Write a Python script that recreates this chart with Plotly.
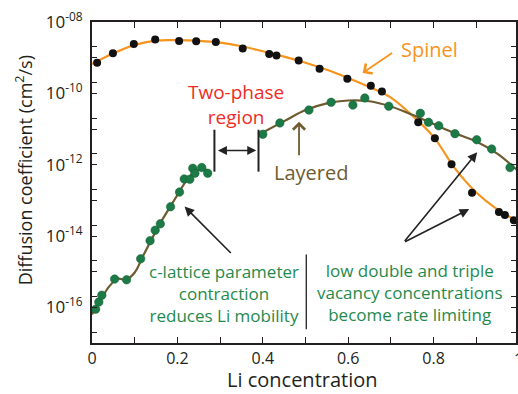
import plotly.graph_objects as go

# ---------------- data ----------------
spinel_x = [0.012, 0.049, 0.098, 0.148, 0.204, 0.244, 0.29, 0.353, 0.415, 0.432, 0.484,
            0.533, 0.598, 0.653, 0.679, 0.764, 0.803, 0.842, 0.89, 0.953, 0.967, 0.988]
spinel_D = [7.2e-10, 1.33e-9, 2.40e-9, 3.24e-9, 2.95e-9, 2.88e-9, 2.75e-9, 1.82e-9, 1.27e-9,
            1.15e-9, 8.3e-10, 4.9e-10, 2.57e-10, 1.62e-10, 1.12e-10, 1.55e-11, 5.5e-12,
            1.02e-12, 1.62e-13, 4.7e-14, 3.9e-14, 2.75e-14]

spinel_fit_x = [0, 0.05, 0.1, 0.15, 0.2, 0.25, 0.3, 0.35, 0.4, 0.45, 0.5, 0.55, 0.6, 0.65,
                0.7, 0.75, 0.8, 0.85, 0.9, 0.95, 1.0]
spinel_fit_D = [6.6e-10, 1.32e-9, 2.29e-9, 3.02e-9, 3.09e-9, 2.95e-9, 2.63e-9, 2.09e-9,
                1.51e-9, 1.07e-9, 7.2e-10, 4.57e-10, 2.69e-10, 1.51e-10, 7.6e-11, 2.4e-11,
                6.0e-12, 7.9e-13, 1.66e-13, 5.5e-14, 2.5e-14]

layered_x = [0.0085, 0.016, 0.023, 0.053, 0.081, 0.114, 0.136, 0.148, 0.16, 0.184, 0.205,
             0.216, 0.229, 0.236, 0.241, 0.257, 0.271, 0.4, 0.44, 0.508, 0.56, 0.611, 0.639,
             0.695, 0.769, 0.788, 0.812, 0.85, 0.901, 0.936, 0.979]
layered_D = [8.9e-17, 1.41e-16, 2.19e-16, 6.2e-16, 5.9e-16, 2.29e-15, 7.4e-15, 1.45e-14,
             2.19e-14, 6.6e-14, 1.70e-13, 3.98e-13, 3.89e-13, 7.9e-13, 5.75e-13, 8.3e-13,
             5.75e-13, 7.1e-12, 1.48e-11, 3.39e-11, 5.6e-11, 4.68e-11, 7.4e-11, 4.37e-11,
             2.75e-11, 1.55e-11, 1.23e-11, 7.4e-12, 5.0e-12, 2.75e-12, 8.3e-13]

layered_fit1_x = [0, 0.02, 0.04, 0.06, 0.08, 0.1, 0.12, 0.14, 0.16, 0.18, 0.2, 0.22, 0.24,
                  0.26, 0.275]
layered_fit1_D = [6.3e-17, 1.58e-16, 3.8e-16, 6.3e-16, 6.0e-16, 9.5e-16, 2.82e-15, 8.3e-15,
                  2.29e-14, 5.75e-14, 1.41e-13, 3.39e-13, 6.3e-13, 7.6e-13, 6.3e-13]
layered_fit2_x = [0.39, 0.45, 0.5, 0.55, 0.6, 0.65, 0.7, 0.75, 0.8, 0.85, 0.9, 0.95, 1.0]
layered_fit2_D = [6.9e-12, 1.66e-11, 3.39e-11, 5.25e-11, 6.3e-11, 6.0e-11, 4.27e-11,
                  2.51e-11, 1.38e-11, 7.6e-12, 4.47e-12, 2.0e-12, 6.3e-13]

x_tickvals = [0, 0.1, 0.2, 0.3, 0.4, 0.5, 0.6, 0.7, 0.8, 0.9]
x_ticktext = ["0", "", "0.2", "", "0.4", "", "0.6", "", "0.8", ""]
y_tickvals = [1e-8, 1e-9, 1e-10, 1e-11, 1e-12, 1e-13, 1e-14, 1e-15, 1e-16, 1e-17]
y_ticktext = ["10<sup>-08</sup>", "", "10<sup>-10</sup>", "", "10<sup>-12</sup>", "",
              "10<sup>-14</sup>", "", "10<sup>-16</sup>", ""]
y_minorvals = [2e-9, 2e-10, 2e-11, 2e-12, 2e-13, 2e-14, 2e-15, 2e-16, 2e-17]

ORANGE = "#f7941d"
BROWN = "#6e5b30"
GREEN_DOT = "#1b7a45"
GREEN_TXT = "#1f8a4c"
RED = "#ee2c24"
INK = "#231f20"
FONT = "Open Sans"

fig = go.Figure()
fig.add_trace(go.Scatter(x=spinel_fit_x, y=spinel_fit_D, mode="lines",
                         line=dict(color=ORANGE, width=2.2, shape="spline"),
                         hoverinfo="skip", showlegend=False))
fig.add_trace(go.Scatter(x=layered_fit1_x + [None] + layered_fit2_x,
                         y=layered_fit1_D + [None] + layered_fit2_D, mode="lines",
                         line=dict(color=BROWN, width=2.2, shape="spline"),
                         connectgaps=False, hoverinfo="skip", showlegend=False))
fig.add_trace(go.Scatter(x=spinel_x, y=spinel_D, mode="markers",
                         marker=dict(color="#111111", size=8), showlegend=False))
fig.add_trace(go.Scatter(x=layered_x, y=layered_D, mode="markers",
                         marker=dict(color=GREEN_DOT, size=8.5,
                                     line=dict(color="#155e35", width=0.5)),
                         showlegend=False))

X0, XS = 92, 429.0   # pixel of x=0, pixels per unit
Y0, YS = 22, 35.75   # pixel of 1e-8, pixels per decade


def px2x(p):
    return (p - X0) / XS


def py2y(p):          # log10 value (annotations on log axis)
    return -8 - (p - Y0) / YS


def py2v(p):          # data value (shapes on log axis)
    return 10 ** py2y(p)


ann = []
# Spinel label and arrow
ann.append(dict(x=px2x(431), y=py2y(50), text="Spinel", showarrow=False,
                font=dict(color=ORANGE, size=20, family=FONT)))
ann.append(dict(x=px2x(364), y=py2y(73), ax=px2x(395), ay=py2y(52), axref="x", ayref="y",
                text="", showarrow=True, arrowhead=4, arrowsize=1.3, arrowwidth=1.8,
                arrowcolor=ORANGE))
# Layered label and arrow
ann.append(dict(x=px2x(312), y=py2y(173), text="Layered", showarrow=False,
                font=dict(color=BROWN, size=20, family=FONT)))
ann.append(dict(x=px2x(300), y=py2y(122), ax=px2x(300), ay=py2y(157), axref="x", ayref="y",
                text="", showarrow=True, arrowhead=4, arrowsize=1.3, arrowwidth=1.8,
                arrowcolor=BROWN))
# Two-phase region
ann.append(dict(x=px2x(237), y=py2y(104.5), text="Two-phase<br>region", showarrow=False,
                font=dict(color=RED, size=19, family=FONT)))
ann.append(dict(x=px2x(257), y=py2y(150.7), ax=px2x(217), ay=py2y(150.7), axref="x",
                ayref="y", text="", showarrow=True, arrowhead=2, arrowside="end+start",
                arrowsize=1.2, arrowwidth=1.5, arrowcolor="#222222"))
# c-lattice text and arrow
ann.append(dict(x=px2x(225), y=py2y(294.5),
                text="c-lattice parameter<br>contraction<br>reduces Li mobility",
                showarrow=False, font=dict(color=GREEN_TXT, size=17, family=FONT)))
ann.append(dict(x=px2x(185), y=py2y(207), ax=px2x(233), ay=py2y(255), axref="x", ayref="y",
                text="", showarrow=True, arrowhead=2, arrowsize=1.2, arrowwidth=1.6,
                arrowcolor="#222222"))
# low double text and arrows
ann.append(dict(x=px2x(411), y=py2y(293),
                text="low double and triple<br>vacancy concentrations<br>become rate limiting",
                showarrow=False, font=dict(color=GREEN_TXT, size=17, family=FONT)))
ann.append(dict(x=px2x(471), y=py2y(209.5), ax=px2x(405), ay=py2y(243), axref="x", ayref="y",
                text="", showarrow=True, arrowhead=2, arrowsize=1.2, arrowwidth=1.6,
                arrowcolor="#222222"))
ann.append(dict(x=px2x(479), y=py2y(152.5), ax=px2x(405), ay=py2y(243), axref="x", ayref="y",
                text="", showarrow=True, arrowhead=2, arrowsize=1.2, arrowwidth=1.6,
                arrowcolor="#222222"))
# axis titles and clipped "1" label
ann.append(dict(xref="paper", yref="paper", x=(24 - 92) / 426.0, y=(343 - 170) / 321.0,
                text="Diffusion coefficient (cm<sup>2</sup>/s)", textangle=-90,
                showarrow=False, font=dict(size=18, color=INK, family=FONT)))
ann.append(dict(xref="paper", yref="paper", x=(303 - 92) / 426.0, y=-(380 - 343) / 321.0,
                text="Li concentration", showarrow=False,
                font=dict(size=20, color=INK, family=FONT)))
ann.append(dict(xref="paper", yref="paper", x=(521 - 92) / 426.0, y=-(359 - 343) / 321.0,
                text="1", showarrow=False, font=dict(size=16, color=INK, family=FONT)))
for a in ann:
    a.setdefault("xref", "x")
    a.setdefault("yref", "y")
    a["xanchor"] = "center"
    a["yanchor"] = "middle"
fig.update_layout(annotations=ann)

shapes = [
    dict(type="line", xref="x", yref="y", x0=px2x(215), x1=px2x(215), y0=py2v(130),
         y1=py2v(172), line=dict(color="#222222", width=2)),
    dict(type="line", xref="x", yref="y", x0=px2x(259.3), x1=px2x(259.3), y0=py2v(130),
         y1=py2v(172), line=dict(color="#222222", width=2)),
    dict(type="line", xref="x", yref="y", x0=px2x(307.3), x1=px2x(307.3), y0=py2v(255),
         y1=py2v(330), line=dict(color="#222222", width=1.3)),
]
fig.update_layout(shapes=shapes)

axis_common = dict(showline=True, linecolor=INK, linewidth=2, mirror="ticks",
                   ticks="inside", tickcolor=INK, tickwidth=1.2, showgrid=False,
                   zeroline=False)
fig.update_xaxes(range=[0, 426 / 429.0], tickmode="array", tickvals=x_tickvals,
                 ticktext=x_ticktext, ticklen=6,
                 tickfont=dict(size=16, color=INK, family=FONT), **axis_common)
fig.update_yaxes(type="log", range=[-17, -8], tickmode="array", tickvals=y_tickvals,
                 ticktext=y_ticktext, ticklen=5, ticklabelstandoff=4,
                 tickfont=dict(size=17, color=INK, family=FONT),
                 minor=dict(tickvals=y_minorvals, ticks="inside", ticklen=5,
                            tickcolor=INK, tickwidth=1.2),
                 **axis_common)

fig.update_layout(width=518, height=394, margin=dict(l=92, r=0, t=22, b=51),
                  plot_bgcolor="white", paper_bgcolor="white",
                  font=dict(family=FONT, color=INK))

fig.write_html("out.html")
